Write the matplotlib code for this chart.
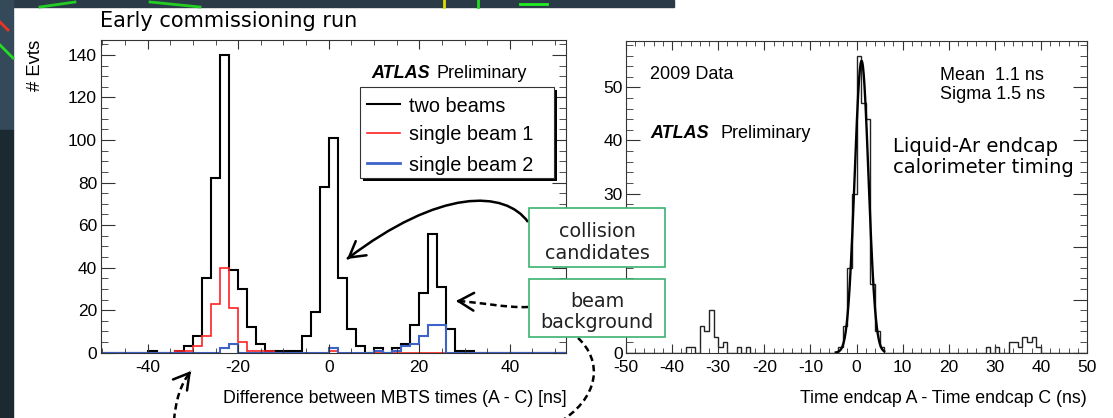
import numpy as np
import matplotlib.pyplot as plt
from matplotlib.patches import Rectangle, FancyArrowPatch, PathPatch
from matplotlib.path import Path
from matplotlib.ticker import MultipleLocator

W, H = 1113, 418

# left panel: MBTS time difference, 2 ns bins, first bin starts at -40 ns
mbts_first = -40
mbts_width = 2
two_beams = [1, 0, 0, 1, 3, 8, 35, 82, 140, 39, 30, 12, 4, 1, 1, 1, 1, 8,
             19, 78, 101, 35, 11, 3, 0, 2, 0, 2, 4, 13, 28, 56, 31, 11, 1, 1]
single_beam_1 = [0, 0, 0, 1, 1, 3, 8, 23, 40, 21, 5, 1, 1, 1, 0, 0, 0, 0,
                 0, 0, 1, 0, 0, 0, 0, 0, 0, 0, 0, 0, 0, 0, 0, 0, 0, 0]
single_beam_2 = [0, 0, 0, 0, 0, 0, 0, 0, 2, 4, 0, 0, 0, 0, 0, 0, 0, 0,
                 0, 0, 2, 0, 0, 0, 0, 1, 0, 1, 3, 4, 8, 13, 13, 0, 0, 0]
mbts_xticks = [-40, -20, 0, 20, 40]
mbts_yticks = [0, 20, 40, 60, 80, 100, 120, 140]

# right panel: LAr endcap time difference, 1 ns bins (lower edge -> entries)
lar_bin_lo = [-37, -36, -34, -33, -32, -31, -30, -29, -26, -24,
              -4, -3, -2, -1, 0, 1, 2, 3, 4, 5,
              28, 30, 33, 34, 35, 36, 37, 38, 39]
lar_counts = [1, 1, 5, 4, 8, 3, 1, 2, 1, 1,
              1, 5, 16, 30, 56, 47, 44, 13, 4, 1,
              1, 1, 2, 2, 1, 3, 2, 3, 1]
fit_mean, fit_sigma, fit_norm = 1.1, 1.5, 55.0
fit_range = (-4.5, 6.0)
lar_xticks = [-50, -40, -30, -20, -10, 0, 10, 20, 30, 40, 50]
lar_yticks = [0, 10, 20, 30, 40, 50]
# 10 and 20 sit under the callout boxes on the slide
lar_ylabels = ['0', '', '', '30', '40', '50']

plt.rcParams['font.family'] = ['Liberation Sans', 'DejaVu Sans']
plt.rcParams['axes.unicode_minus'] = False
SLIDE = 'DejaVu Sans'


def fx(p):
    return p / W


def fy(p):
    return 1 - p / H


fig = plt.figure(figsize=(W / 100, H / 100), dpi=100)

# slide background peeking in at the top-left
fig.add_artist(Rectangle((0, fy(7)), fx(674), 7 / H, color='#2a3b47', zorder=0))
fig.add_artist(Rectangle((0, fy(130)), fx(13), 130 / H, color='#34495a', zorder=0))
fig.add_artist(Rectangle((0, 0), fx(13), fy(130), color='#1b2a31', zorder=0))
for xs, ys, c in [([0, 13], [45, 58], '#22dd22'), ([0, 8], [22, 30], '#ee3322'),
                  ([40, 75], [7, 2], '#22cc22'), ([150, 200], [2, 7], '#22cc22'),
                  ([444, 444], [0, 7], '#dddd00'), ([478, 478], [0, 7], '#22dd22'),
                  ([520, 547], [4, 4], '#22ee22')]:
    fig.add_artist(plt.Line2D([fx(v) for v in xs], [fy(v) for v in ys],
                              color=c, lw=2, zorder=1))

axL = fig.add_axes([fx(100.5), fy(352.7), (566.4 - 100.5) / W, (352.7 - 40) / H])
axR = fig.add_axes([fx(626), fy(352.7), (1087 - 626) / W, (352.7 - 40.7) / H])

# ---- left histogram
pad_lo, pad_hi = -52, 54
edges = np.arange(pad_lo, pad_hi + mbts_width, mbts_width)
off = (mbts_first - pad_lo) // mbts_width


def padded(vals):
    out = np.zeros(len(edges) - 1)
    out[off:off + len(vals)] = vals
    return out


blue = '#3d62c8'
red = '#ff2222'
axL.stairs(padded(two_beams), edges, color='black', lw=1.5, baseline=0)
axL.stairs(padded(single_beam_1), edges, color=red, lw=1.2, baseline=0)
axL.stairs(padded(single_beam_2), edges, color=blue, lw=1.5, baseline=0)
axL.set_xlim(-50.4, 52.5)
axL.set_ylim(0, 147)
axL.set_xticks(mbts_xticks)
axL.set_yticks(mbts_yticks)
axL.xaxis.set_minor_locator(MultipleLocator(5))
axL.yaxis.set_minor_locator(MultipleLocator(5))
axL.set_xlabel('Difference between MBTS times (A - C) [ns]', fontsize=12.8,
               loc='right', va='baseline')
axL.xaxis.set_label_coords(1.0, (352.7 - 402.7) / 312.7)
axL.set_ylabel('# Evts', fontsize=13.3, loc='top')
axL.yaxis.set_label_coords((44 - 100.5) / 465.9, 1.0)

# ---- right histogram
lar_edges = np.arange(-52, 53, 1)
lar_vals = np.zeros(len(lar_edges) - 1)
for lo, n in zip(lar_bin_lo, lar_counts):
    lar_vals[lo - lar_edges[0]] = n
axR.stairs(lar_vals, lar_edges, color='#222222', lw=1.0, baseline=0)
xf = np.linspace(fit_range[0], fit_range[1], 200)
axR.plot(xf, fit_norm * np.exp(-0.5 * ((xf - fit_mean) / fit_sigma) ** 2),
         color='black', lw=1.7)
axR.set_xlim(-50, 50)
axR.set_ylim(0, 58.8)
axR.set_xticks(lar_xticks)
axR.set_yticks(lar_yticks, lar_ylabels)
axR.xaxis.set_minor_locator(MultipleLocator(2))
axR.yaxis.set_minor_locator(MultipleLocator(2))
axR.set_xlabel('Time endcap A - Time endcap C (ns)', fontsize=12.8,
               loc='right', va='baseline')
axR.xaxis.set_label_coords(1.0, (352.7 - 403) / 312)

for ax in (axL, axR):
    ax.tick_params(which='both', direction='in', top=True, right=True,
                   labelsize=12.5, color='#333333')
    ax.tick_params(axis='y', which='major', length=10, pad=2.5)
    ax.tick_params(axis='y', which='minor', length=5)
    ax.tick_params(axis='x', which='major', length=6.8, pad=5)
    ax.tick_params(axis='x', which='minor', length=3.4)
    for s in ax.spines.values():
        s.set_linewidth(0.8)
        s.set_color('#333333')

# ---- text inside the panels
fig.text(fx(100), fy(27.3), 'Early commissioning run', family=SLIDE, fontsize=15,
         ha='left', va='baseline')
fig.text(fx(371), fy(77.7), 'ATLAS', fontsize=13, weight='bold', style='italic',
         va='baseline')
fig.text(fx(436), fy(77.7), 'Preliminary', fontsize=13, va='baseline')

fig.text(fx(650), fy(79.3), '2009 Data', fontsize=13, va='baseline')
fig.text(fx(940.5), fy(80), 'Mean  1.1 ns', fontsize=13, va='baseline')
fig.text(fx(940.5), fy(99.3), 'Sigma 1.5 ns', fontsize=13, va='baseline')
fig.text(fx(650), fy(138.3), 'ATLAS', fontsize=13, weight='bold', style='italic',
         va='baseline')
fig.text(fx(721), fy(138.3), 'Preliminary', fontsize=13, va='baseline')
fig.text(fx(893), fy(151.7), 'Liquid-Ar endcap', family=SLIDE, fontsize=14,
         va='baseline')
fig.text(fx(893), fy(173.3), 'calorimeter timing', family=SLIDE, fontsize=14,
         va='baseline')

# ---- legend (ROOT style box with drop shadow)
lx0, lx1, ly0, ly1 = 360, 554, 87, 178
fig.add_artist(Rectangle((fx(lx0 + 3), fy(ly1 + 3)), (lx1 - lx0) / W, (ly1 - ly0) / H,
                         facecolor='black', edgecolor='none', zorder=4))
fig.add_artist(Rectangle((fx(lx0), fy(ly1)), (lx1 - lx0) / W, (ly1 - ly0) / H,
                         facecolor='white', edgecolor='#333333', lw=0.8, zorder=5))
for label, c, lw, yl in [('two beams', 'black', 1.5, 104), ('single beam 1', red, 1.2, 133),
                         ('single beam 2', blue, 2.0, 163)]:
    fig.add_artist(plt.Line2D([fx(367), fx(400)], [fy(yl), fy(yl)], color=c, lw=lw, zorder=6))
    fig.text(fx(409), fy(yl + 7.5), label, fontsize=14.3, va='baseline', zorder=6)

# ---- callout boxes
green = '#3cb371'
for (y0, y1), lines in [((208, 267), [('collision', 236.7), ('candidates', 259.3)]),
                        ((279, 337), [('beam', 306.7), ('background', 328.3)])]:
    fig.add_artist(Rectangle((fx(529), fy(y1)), (665 - 529) / W, (y1 - y0) / H,
                             facecolor='white', edgecolor=green, lw=1.2, zorder=8))
    for t, yb in lines:
        fig.text(fx(597), fy(yb), t, family=SLIDE, fontsize=13.8, ha='center',
                 va='baseline', color='#222222', zorder=9)


# ---- arrows
def curve(pts, dashed, head):
    verts = [(fx(x), fy(y)) for x, y in pts]
    codes = [Path.MOVETO] + [Path.CURVE4] * 3
    ls = (0, (2.6, 1.6)) if dashed else '-'
    fig.add_artist(PathPatch(Path(verts, codes), fill=False, lw=1.8, ls=ls,
                             edgecolor='black', transform=fig.transFigure,
                             capstyle='butt', zorder=7))
    if head:
        (x2, y2), (x3, y3) = pts[2], pts[3]
        d = np.hypot(x3 - x2, y3 - y2)
        xa, ya = x3 - 3 * (x3 - x2) / d, y3 - 3 * (y3 - y2) / d
        fig.add_artist(FancyArrowPatch((fx(xa), fy(ya)), (fx(x3), fy(y3)),
                                       arrowstyle='->,head_length=0.55,head_width=0.32',
                                       mutation_scale=20, lw=1.8, color='black',
                                       shrinkA=0, shrinkB=0, transform=fig.transFigure,
                                       zorder=7))


curve([(528, 222), (505, 190), (440, 188), (347, 259)], False, True)
curve([(528, 307), (505, 308), (480, 302), (456, 301)], True, True)
curve([(174, 420), (176, 400), (180, 385), (191, 371)], True, True)
curve([(578, 338), (602, 360), (602, 398), (555, 425)], True, False)

fig.savefig('out.png', dpi=100)
